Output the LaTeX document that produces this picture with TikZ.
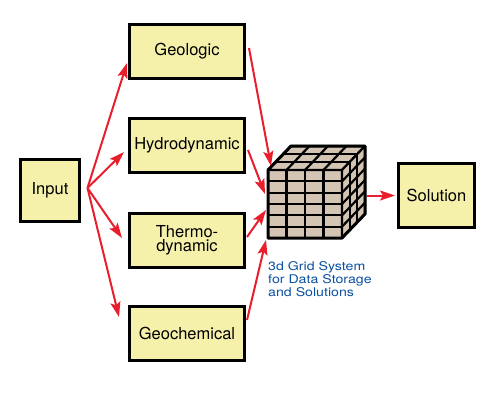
\documentclass[tikz,border=0pt]{standalone}
\usepackage{fontspec}
\setmainfont{TeX Gyre Heros}
\newfontfamily\capfont[FakeStretch=1.18]{TeX Gyre Heros}
\usetikzlibrary{calc}
\usetikzlibrary{arrows.meta}

\definecolor{boxfill}{RGB}{246,241,170}
\definecolor{flowred}{RGB}{232,30,45}
\definecolor{cellfill}{RGB}{212,196,180}
\definecolor{labelblue}{RGB}{10,80,160}

\tikzset{
  model/.style={draw=black,line width=3pt,fill=boxfill,inner sep=0pt,
    minimum width=115pt,minimum height=54pt,align=center,
    font=\fontsize{16.5}{14}\selectfont},
  flow/.style={draw=flowred,line width=2pt,
    -{Stealth[length=15pt,width=10pt,inset=3pt]}},
}

\begin{document}
\begin{tikzpicture}[x=1pt,y=-1pt]
  % Constants
  \pgfmathsetmacro\cx{268}
  \pgfmathsetmacro\cy{170}
  \pgfmathsetmacro\cw{74}
  \pgfmathsetmacro\ch{68}
  \pgfmathsetmacro\dx{23}
  \pgfmathsetmacro\dy{-24}
  % Boundary
  \path[use as bounding box] (0,0) rectangle (500,400);
  % Boxes
  \node[model,minimum width=59pt,minimum height=62pt] (input) at (50,190.5) {Input};
  \node[model] (geo) at (187,51.5) {Geologic};
  \node[model] (hyd) at (187,145) {Hydrodynamic};
  \node[model] (thm) at (187,240.5) {Thermo-\\dynamic};
  \node[model] (gch) at (187,333) {Geochemical};
  \node[model,minimum width=76pt,minimum height=64pt] (sol) at (436.5,195.5) {Solution};
  % Grid cube
  \begin{scope}[line width=2.2pt,line join=round]
    % front
    \filldraw[fill=cellfill] (\cx,\cy) rectangle (\cx+\cw,\cy+\ch);
    \foreach \i in {1,2,3}
      \draw (\cx+\i*\cw/4,\cy) -- (\cx+\i*\cw/4,\cy+\ch);
    \foreach \j in {1,...,5}
      \draw (\cx,\cy+\j*\ch/6) -- (\cx+\cw,\cy+\j*\ch/6);
    % top
    \filldraw[fill=cellfill] (\cx,\cy) -- (\cx+\cw,\cy) -- (\cx+\cw+\dx,\cy+\dy) -- (\cx+\dx,\cy+\dy) -- cycle;
    \foreach \i in {1,2,3}
      \draw (\cx+\i*\cw/4,\cy) -- (\cx+\i*\cw/4+\dx,\cy+\dy);
    \foreach \j in {1,2}
      \draw (\cx+\j*\dx/3,\cy+\j*\dy/3) -- (\cx+\cw+\j*\dx/3,\cy+\j*\dy/3);
    % right
    \filldraw[fill=cellfill] (\cx+\cw,\cy) -- (\cx+\cw+\dx,\cy+\dy) -- (\cx+\cw+\dx,\cy+\ch+\dy) -- (\cx+\cw,\cy+\ch) -- cycle;
    \foreach \j in {1,2}
      \draw (\cx+\cw+\j*\dx/3,\cy+\j*\dy/3) -- (\cx+\cw+\j*\dx/3,\cy+\ch+\j*\dy/3);
    \foreach \i in {1,...,5}
      \draw (\cx+\cw,\cy+\i*\ch/6) -- (\cx+\cw+\dx,\cy+\i*\ch/6+\dy);
    % outline
    \draw[line width=3pt] (\cx,\cy) -- (\cx,\cy+\ch) -- (\cx+\cw,\cy+\ch) -- (\cx+\cw+\dx,\cy+\ch+\dy)
      -- (\cx+\cw+\dx,\cy+\dy) -- (\cx+\dx,\cy+\dy) -- cycle;
  \end{scope}
  \coordinate (ftl) at (\cx,\cy);
  \coordinate (fbl) at (\cx,\cy+\ch);
  \coordinate (out) at (\cx+\cw+\dx+2,195.5);
  % Caption
  \node[anchor=north west,align=left,text=labelblue,inner sep=0pt,
    font=\capfont\fontsize{12}{13}\selectfont] (cap) at (268,261.5) {3d Grid System\\for Data Storage\\and Solutions};
  % Arrows from input
  \coordinate (in) at ($(input.east)+(6.5,-2.5)$);
  \draw[flow] (in) -- ($(geo.west)+(-1,11.5)$);
  \draw[flow] (in) -- ($(hyd.west)+(-4,7)$);
  \draw[flow] (in) -- ($(thm.west)+(-6,-2.5)$);
  \draw[flow] (in) -- ($(gch.west)+(-9,-16)$);
  % Arrows into cube
  \draw[flow] ($(geo.east)+(3,-3.5)$) -- ($(ftl)+(3,-4)$);
  \draw[flow] ($(hyd.east)+(2,5)$) -- ($(ftl)+(-3,24)$);
  \draw[flow] ($(thm.east)+(1,-3.5)$) -- ($(ftl)+(-2,40)$);
  \draw[flow] ($(gch.east)+(1,-13)$) -- ($(fbl)+(-2,2)$);
  % Arrow to solution
  \draw[flow,shorten >=2pt] (out) -- (sol.west);
\end{tikzpicture}
\end{document}
